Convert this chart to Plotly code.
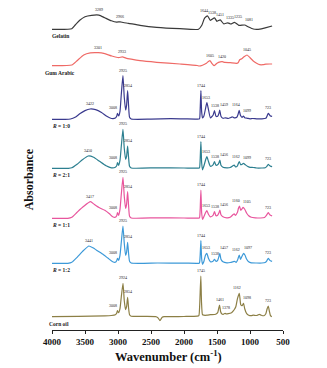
import plotly.graph_objects as go

# ---- FTIR spectra (wavenumber in cm^-1, absorbance in arbitrary units) ----
gelatin_wn = [4000, 3700, 3648, 3580, 3500, 3400, 3289, 3200, 3100, 3020, 2966, 2920, 2843, 2666, 2414, 2062,
              1780, 1730, 1690, 1644, 1600, 1538, 1500, 1451, 1400, 1335, 1290, 1235, 1170, 1081, 1030, 950,
              850, 770, 665]
gelatin_abs = [0, 0.6, 4.3, 9, 12.6, 14, 14.2, 11.5, 8.5, 7.2, 7.5, 6.8, 6, 4, 2, 0.6,
               0, 4, 11, 13.5, 9, 11.5, 8, 9.5, 5.5, 6.5, 5.3, 7, 4, 4.3, 2.6, 0.3,
               0.2, 1.5, 3.3]

gum_wn = [4000, 3700, 3620, 3520, 3420, 3301, 3200, 3094, 2990, 2933, 2880, 2800, 2666, 2414, 2062, 1800,
          1770, 1720, 1660, 1625, 1605, 1575, 1545, 1500, 1450, 1420, 1380, 1300, 1205, 1180, 1156, 1125,
          1090, 1045, 1000, 955, 900, 853, 800, 760, 700, 665]
gum_abs = [0, 0.7, 5, 10.7, 12.8, 13, 12, 9.7, 8, 8.8, 7.6, 6.5, 5, 3.4, 1.7, 0.2,
           -0.3, 0.5, 2.5, 4.5, 5, 2, 0, 2.5, 3.8, 4, 3.3, 3, 2.4, 3, 6, 7,
           9, 10.7, 8, 5, 2.5, 1, 1, 1.5, 1.7, 1.7]

r10_wn = [4000, 3800, 3720, 3650, 3580, 3500, 3422, 3340, 3250, 3170, 3100, 3040, 3020, 3008, 2990, 2970,
          2950, 2925, 2905, 2885, 2870, 2854, 2840, 2825, 2800, 2500, 2200, 2000, 1800, 1765, 1755, 1744,
          1733, 1720, 1700, 1670, 1653, 1630, 1600, 1560, 1538, 1515, 1490, 1470, 1459, 1440, 1410, 1370,
          1330, 1300, 1270, 1240, 1200, 1180, 1164, 1145, 1120, 1099, 1080, 1040, 1000, 960, 900, 820,
          760, 740, 723, 705, 690, 665]
r10_abs = [0, 0, 0.3, 2, 5.5, 8.7, 10.3, 9.6, 6.8, 3, 0.8, 1.2, 3, 6, 3.5, 8,
           25, 43.6, 22, 9.3, 14, 28.6, 14, 2, 0.3, 0.2, 0.6, 0.4, 0.2, 0.5, 10, 28.6,
           8, 1.5, 3, 12, 16.6, 10, 1.5, 4, 8.6, 3, 3, 6, 9.3, 3, 1, 1.5,
           0.8, 1.5, 2.5, 1.5, 2, 5, 9, 4, 2, 3.3, 1.5, 1, 0.5, 0.8, 0.5, 0.5,
           1, 3.5, 6, 4.5, 3.3, 3]

r21_wn = [4000, 3750, 3700, 3620, 3540, 3450, 3370, 3280, 3180, 3100, 3040, 3020, 3008, 2990, 2970, 2950,
          2925, 2905, 2885, 2870, 2854, 2840, 2825, 2800, 2400, 2000, 1780, 1765, 1755, 1744, 1733, 1720,
          1700, 1670, 1653, 1630, 1600, 1560, 1538, 1515, 1490, 1470, 1456, 1440, 1410, 1350, 1300, 1260,
          1240, 1220, 1190, 1175, 1162, 1140, 1120, 1099, 1070, 1040, 1000, 950, 900, 820, 770, 745,
          723, 705, 690, 665]
r21_abs = [0, 0, 0.5, 4, 8.5, 12.3, 11, 7, 2.5, 0.5, 1, 2.5, 5.6, 3, 8, 22,
           39, 20, 9, 12, 22.3, 11, 2, 0.3, 0.5, 0.3, 0.2, 0.5, 9, 26.6, 6, -1.5,
           2, 9, 11.6, 7, 2, 3.5, 6.6, 3, 3.5, 5.5, 8.3, 3, 1, 0.5, 0.8, 2.5,
           3.3, 1.5, 2.5, 5, 6.6, 3.5, 4, 5, 3.5, 2, 1, 0.8, 0.3, 0.3, 0.5, 2,
           4, 2.8, 2.2, 1.7]

r11_wn = [4000, 3760, 3700, 3620, 3520, 3417, 3360, 3280, 3200, 3130, 3080, 3040, 3020, 3008, 2990, 2970,
          2950, 2925, 2905, 2885, 2870, 2854, 2840, 2825, 2800, 2400, 2000, 1780, 1765, 1755, 1744, 1733,
          1720, 1700, 1670, 1653, 1630, 1600, 1560, 1538, 1515, 1490, 1470, 1456, 1440, 1410, 1350, 1300,
          1260, 1240, 1220, 1190, 1175, 1160, 1140, 1120, 1105, 1080, 1050, 1020, 980, 920, 840, 780,
          750, 723, 705, 690, 665]
r11_abs = [0, 0, 1, 6, 12, 16.6, 14, 10.5, 8, 4.5, 1.5, 1, 2.5, 5.6, 3, 9,
           24, 41, 22, 10, 14, 26.6, 13, 2, 0.3, 0.5, 0.3, 0.2, 0.5, 9, 28.3, 6,
           -1, 1.5, 6, 7.6, 4, 1.5, 3, 6.6, 2.5, 3, 5.5, 8.3, 3.5, 1.5, 0.5, 1,
           3.5, 4.5, 3, 6, 10, 12.3, 8, 9.5, 11, 9, 5, 2.5, 1, 0.5, 0.3, 0.8,
           3, 5.6, 4, 3, 2.5]

r12_wn = [4000, 3760, 3700, 3620, 3520, 3441, 3380, 3300, 3220, 3150, 3080, 3040, 3020, 3008, 2990, 2970,
          2950, 2925, 2905, 2885, 2870, 2854, 2840, 2825, 2800, 2400, 2000, 1780, 1765, 1755, 1744, 1733,
          1720, 1700, 1675, 1653, 1630, 1600, 1560, 1538, 1515, 1490, 1470, 1457, 1440, 1410, 1350, 1300,
          1260, 1235, 1210, 1190, 1175, 1162, 1145, 1125, 1097, 1075, 1050, 1020, 980, 900, 820, 770,
          745, 723, 705, 690, 665]
r12_abs = [0, 0, 1, 6, 13, 17.3, 15.5, 12, 8.5, 5, 1.5, 1, 2.5, 5, 3, 8,
           21, 37.3, 20, 8, 11, 21, 10, 2, 0.3, 0.3, 0.2, 0, 0.5, 8, 22.6, 5,
           -1, 1.5, 8, 10, 5, 1.5, 2, 4, 2, 3, 7, 10, 4, 1.5, 0.5, 0.8,
           1.5, 2, 1, 3, 6, 8.3, 4, 6.5, 10, 8, 4, 1.5, 0.5, 0.3, 0.3, 0.8,
           2.5, 5, 3.5, 2.5, 2]

corn_wn = [4000, 3600, 3200, 3100, 3040, 3020, 3008, 2990, 2970, 2950, 2924, 2905, 2885, 2870, 2854, 2840,
           2825, 2800, 2600, 2420, 2390, 2364, 2345, 2330, 2300, 2000, 1800, 1775, 1762, 1745, 1735, 1720,
           1700, 1650, 1600, 1520, 1490, 1475, 1461, 1445, 1425, 1400, 1390, 1378, 1365, 1330, 1280, 1250,
           1235, 1215, 1190, 1162, 1140, 1120, 1098, 1080, 1050, 1020, 980, 950, 900, 860, 830, 790,
           760, 740, 723, 705, 690, 670]
corn_abs = [0, 0.3, 0.8, 1.2, 2, 3.5, 6, 4, 8, 20, 33.4, 16, 7, 10, 19.4, 9,
            2, 0.5, 0.3, 0, -1.5, -4, -2, -0.5, 0, 0.2, 0.5, 1, 12, 40.7, 15, 2,
            1.5, 1.5, 2, 2.5, 4, 8, 11.7, 5, 2.7, 2.5, 3, 3.4, 2.8, 3, 4, 6,
            7.4, 10, 18, 23.4, 12, 11, 13.4, 8, 3, 1.5, 1, 1.5, 1.2, 2.3, 1.5, 1,
            3, 8, 10.7, 5, 1, 0]

# peak assignments printed above each trace
gelatin_peaks = [3289, 2966, 1644, 1538, 1451, 1335, 1235, 1081]
gum_peaks = [3301, 2933, 1605, 1420, 1045]
r10_peaks = [3422, 3008, 2925, 2854, 1744, 1653, 1538, 1459, 1164, 1099, 723]
r21_peaks = [3450, 3008, 2925, 2854, 1744, 1653, 1538, 1456, 1162, 1099, 723]
r11_peaks = [3417, 3008, 2925, 2854, 1744, 1653, 1538, 1456, 1160, 1105, 723]
r12_peaks = [3441, 3008, 2925, 2854, 1744, 1653, 1538, 1457, 1162, 1097, 723]
corn_peaks = [3008, 2924, 2854, 1745, 1461, 1378, 1162, 1098, 723]

tick_vals = [4000, 3500, 3000, 2500, 2000, 1500, 1000, 500]

# horizontal nudges (px) that keep crowded peak labels apart
blend_nudge = {3008: -4, 1653: -1, 1538: 1, 1459: 4, 1456: 4, 1457: 4,
               1164: -3, 1162: -3, 1160: -3, 1099: 4, 1097: 4, 1105: 4}
gelatin_nudge = {1644: -4, 1538: -2, 1451: 0, 1335: 2, 1235: 4, 1081: 4}
gum_nudge = {}
corn_nudge = {3008: -4, 1461: 0, 1378: 1, 1162: -2, 1098: 3}

# trace name, data, vertical stacking offset, colour, name-label x shift, label nudges
traces = [
    ("Gelatin", gelatin_wn, gelatin_abs, gelatin_peaks, 300.7, "#3a3a3a", -2, gelatin_nudge),
    ("Gum Arabic", gum_wn, gum_abs, gum_peaks, 264.3, "#ef6a66", -9, gum_nudge),
    ("<i>R</i> = 1:0", r10_wn, r10_abs, r10_peaks, 210.7, "#3a3a8e", -2, blend_nudge),
    ("<i>R</i> = 2:1", r21_wn, r21_abs, r21_peaks, 161.7, "#2c7f90", -2, blend_nudge),
    ("<i>R</i> = 1:1", r11_wn, r11_abs, r11_peaks, 111.7, "#e8559d", -2, blend_nudge),
    ("<i>R</i> = 1:2", r12_wn, r12_abs, r12_peaks, 66.7, "#3c99d8", -2, blend_nudge),
    ("Corn oil", corn_wn, corn_abs, corn_peaks, 13.3, "#8c7f45", -5, corn_nudge),
]

SERIF = "Liberation Serif, Times New Roman, serif"

fig = go.Figure()
annotations = []
for name, wn, ab, peaks, off, color, nshift, nudge in traces:
    fig.add_trace(go.Scatter(
        x=wn, y=[v + off for v in ab], mode="lines",
        line=dict(color=color, width=1.2, shape="spline", smoothing=0.5),
        showlegend=False, hoverinfo="skip"))
    lookup = dict(zip(wn, ab))
    for p in peaks:
        annotations.append(dict(
            x=p, y=lookup[p] + off + 1.0, xref="x", yref="y", text=str(p),
            showarrow=False, yanchor="bottom", xanchor="center",
            xshift=nudge.get(p, 0),
            font=dict(family=SERIF, size=4, color="#222")))
    annotations.append(dict(
        x=4000, y=off - 2, xref="x", yref="y", text=name, showarrow=False,
        xanchor="left", yanchor="top", xshift=nshift,
        font=dict(family=SERIF, size=5.5, color="#222", weight="bold")))

annotations.append(dict(
    x=-0.102, y=0.465, xref="paper", yref="paper", text="Absorbance",
    textangle=-90, showarrow=False, xanchor="center", yanchor="middle",
    font=dict(family=SERIF, size=12, color="#111", weight="bold")))
annotations.append(dict(
    x=0.503, y=-0.08, xref="paper", yref="paper",
    text="Wavenumber (cm<sup>-1</sup>)", showarrow=False,
    xanchor="center", yanchor="middle",
    font=dict(family=SERIF, size=12.5, color="#111", weight="bold")))

fig.update_layout(
    width=327, height=368,
    margin=dict(l=52, r=44, t=5, b=38),
    paper_bgcolor="white", plot_bgcolor="white",
    annotations=annotations,
    xaxis=dict(range=[4000, 500], tickvals=tick_vals, showgrid=False, zeroline=False,
               showline=True, linecolor="#222", linewidth=1, ticks="outside",
               ticklen=3, tickcolor="#222",
               tickfont=dict(family=SERIF, size=9, color="#111", weight="bold")),
    yaxis=dict(range=[0, 325], visible=False),
)

fig.write_html("out.html")
